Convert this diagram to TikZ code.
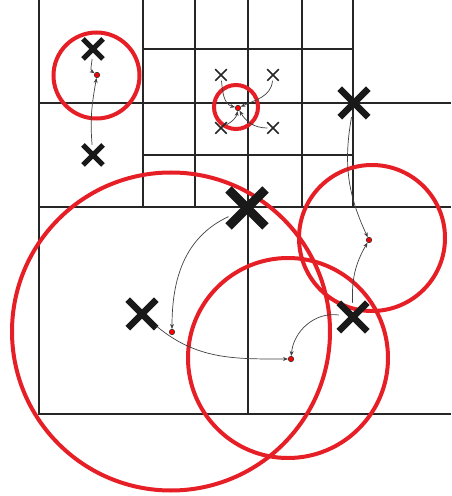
\documentclass[tikz,border=0pt]{standalone}
\usepackage{tikz}
\usetikzlibrary{arrows.meta, shapes.misc}
\definecolor{ringred}{RGB}{230,30,38}

\begin{document}
\begin{tikzpicture}[
  x=1pt, y=1pt,
  >={Stealth[length=5pt, width=4pt]},
  grid/.style={line width=2.2pt, draw=black!85},
  ring/.style={circle, draw=ringred, line width=4pt, inner sep=0pt},
  bigx/.style={cross out, draw=black!90, line width=9pt, minimum size=28pt, inner sep=0pt},
  medx/.style={cross out, draw=black!90, line width=6.5pt, minimum size=22pt, inner sep=0pt},
  smallx/.style={cross out, draw=black!90, line width=5pt, minimum size=15pt, inner sep=0pt},
  tinyx/.style={cross out, draw=black!85, line width=1.5pt, minimum size=10pt, inner sep=0pt},
  com/.style={circle, fill=red, draw=black!80, line width=0.6pt, inner sep=0pt, minimum size=5.5pt},
  arr/.style={->, line width=0.7pt, draw=black!75},
]
\useasboundingbox (0,0) rectangle (451,496);

% === quadtree cells ===
\draw[line width=1pt, draw=black!60] (39,496) -- (451,496);
\draw[grid] (39,496) -- (39,82) -- (451,82);
\draw[grid] (39,289) -- (451,289);
\draw[grid] (39,393) -- (451,393);
\draw[grid] (248,82) -- (248,496);
\foreach \xx in {143,195,302,353}
  \draw[grid] (\xx,289) -- (\xx,496);
\draw[grid] (143,447) -- (353,447);
\draw[grid] (143,341) -- (353,341);

% === cluster rings ===
\node[ring, minimum size=86pt] (ringA) at (96.5,420.5) {};
\node[ring, minimum size=44pt] (ringB) at (236,389) {};
\node[ring, minimum size=146pt] (ringC) at (372,258) {};
\node[ring, minimum size=318pt] (ringD) at (171,164.5) {};
\node[ring, minimum size=200pt] (ringE) at (288,138) {};

% === bodies ===
\node[smallx] (ptA1) at (93,447) {};
\node[smallx] (ptA2) at (93,341) {};
\node[tinyx] (ptB1) at (221,421) {};
\node[tinyx] (ptB2) at (273,421) {};
\node[tinyx] (ptB3) at (221,368) {};
\node[tinyx] (ptB4) at (273,368) {};
\node[medx] (ptC) at (354,393) {};
\node[bigx] (ptD) at (247,288) {};
\node[medx] (ptE) at (142,182) {};
\node[medx] (ptF) at (353,179) {};

% === centres of mass ===
\node[com] (comA) at (97,421) {};
\node[com] (comB) at (238,388) {};
\node[com] (comC) at (369,256) {};
\node[com] (comD) at (172,164) {};
\node[com] (comE) at (291,137) {};

% === moves ===
\draw[arr] (ptA1) to[out=-95, in=145] (comA);
\draw[arr] (ptA2) to[out=95, in=-100] (comA);
\draw[arr] (ptB1) to[out=-85, in=165] (comB);
\draw[arr] (ptB2) to[out=-95, in=25] (comB);
\draw[arr] (ptB3) to[out=30, in=-100] (comB);
\draw[arr] (ptB4) to[out=180, in=-60] (comB);
\draw[arr] (ptC) to[out=-100, in=115] (comC);
\draw[arr] (ptF) to[out=92, in=-120] (comC);
\draw[arr] (ptF) to[out=172, in=85] (comE);
\draw[arr] (ptE) to[out=-40, in=180] (comE);
\draw[arr] (ptD) to[out=-155, in=90] (comD);

\end{tikzpicture}
\end{document}
